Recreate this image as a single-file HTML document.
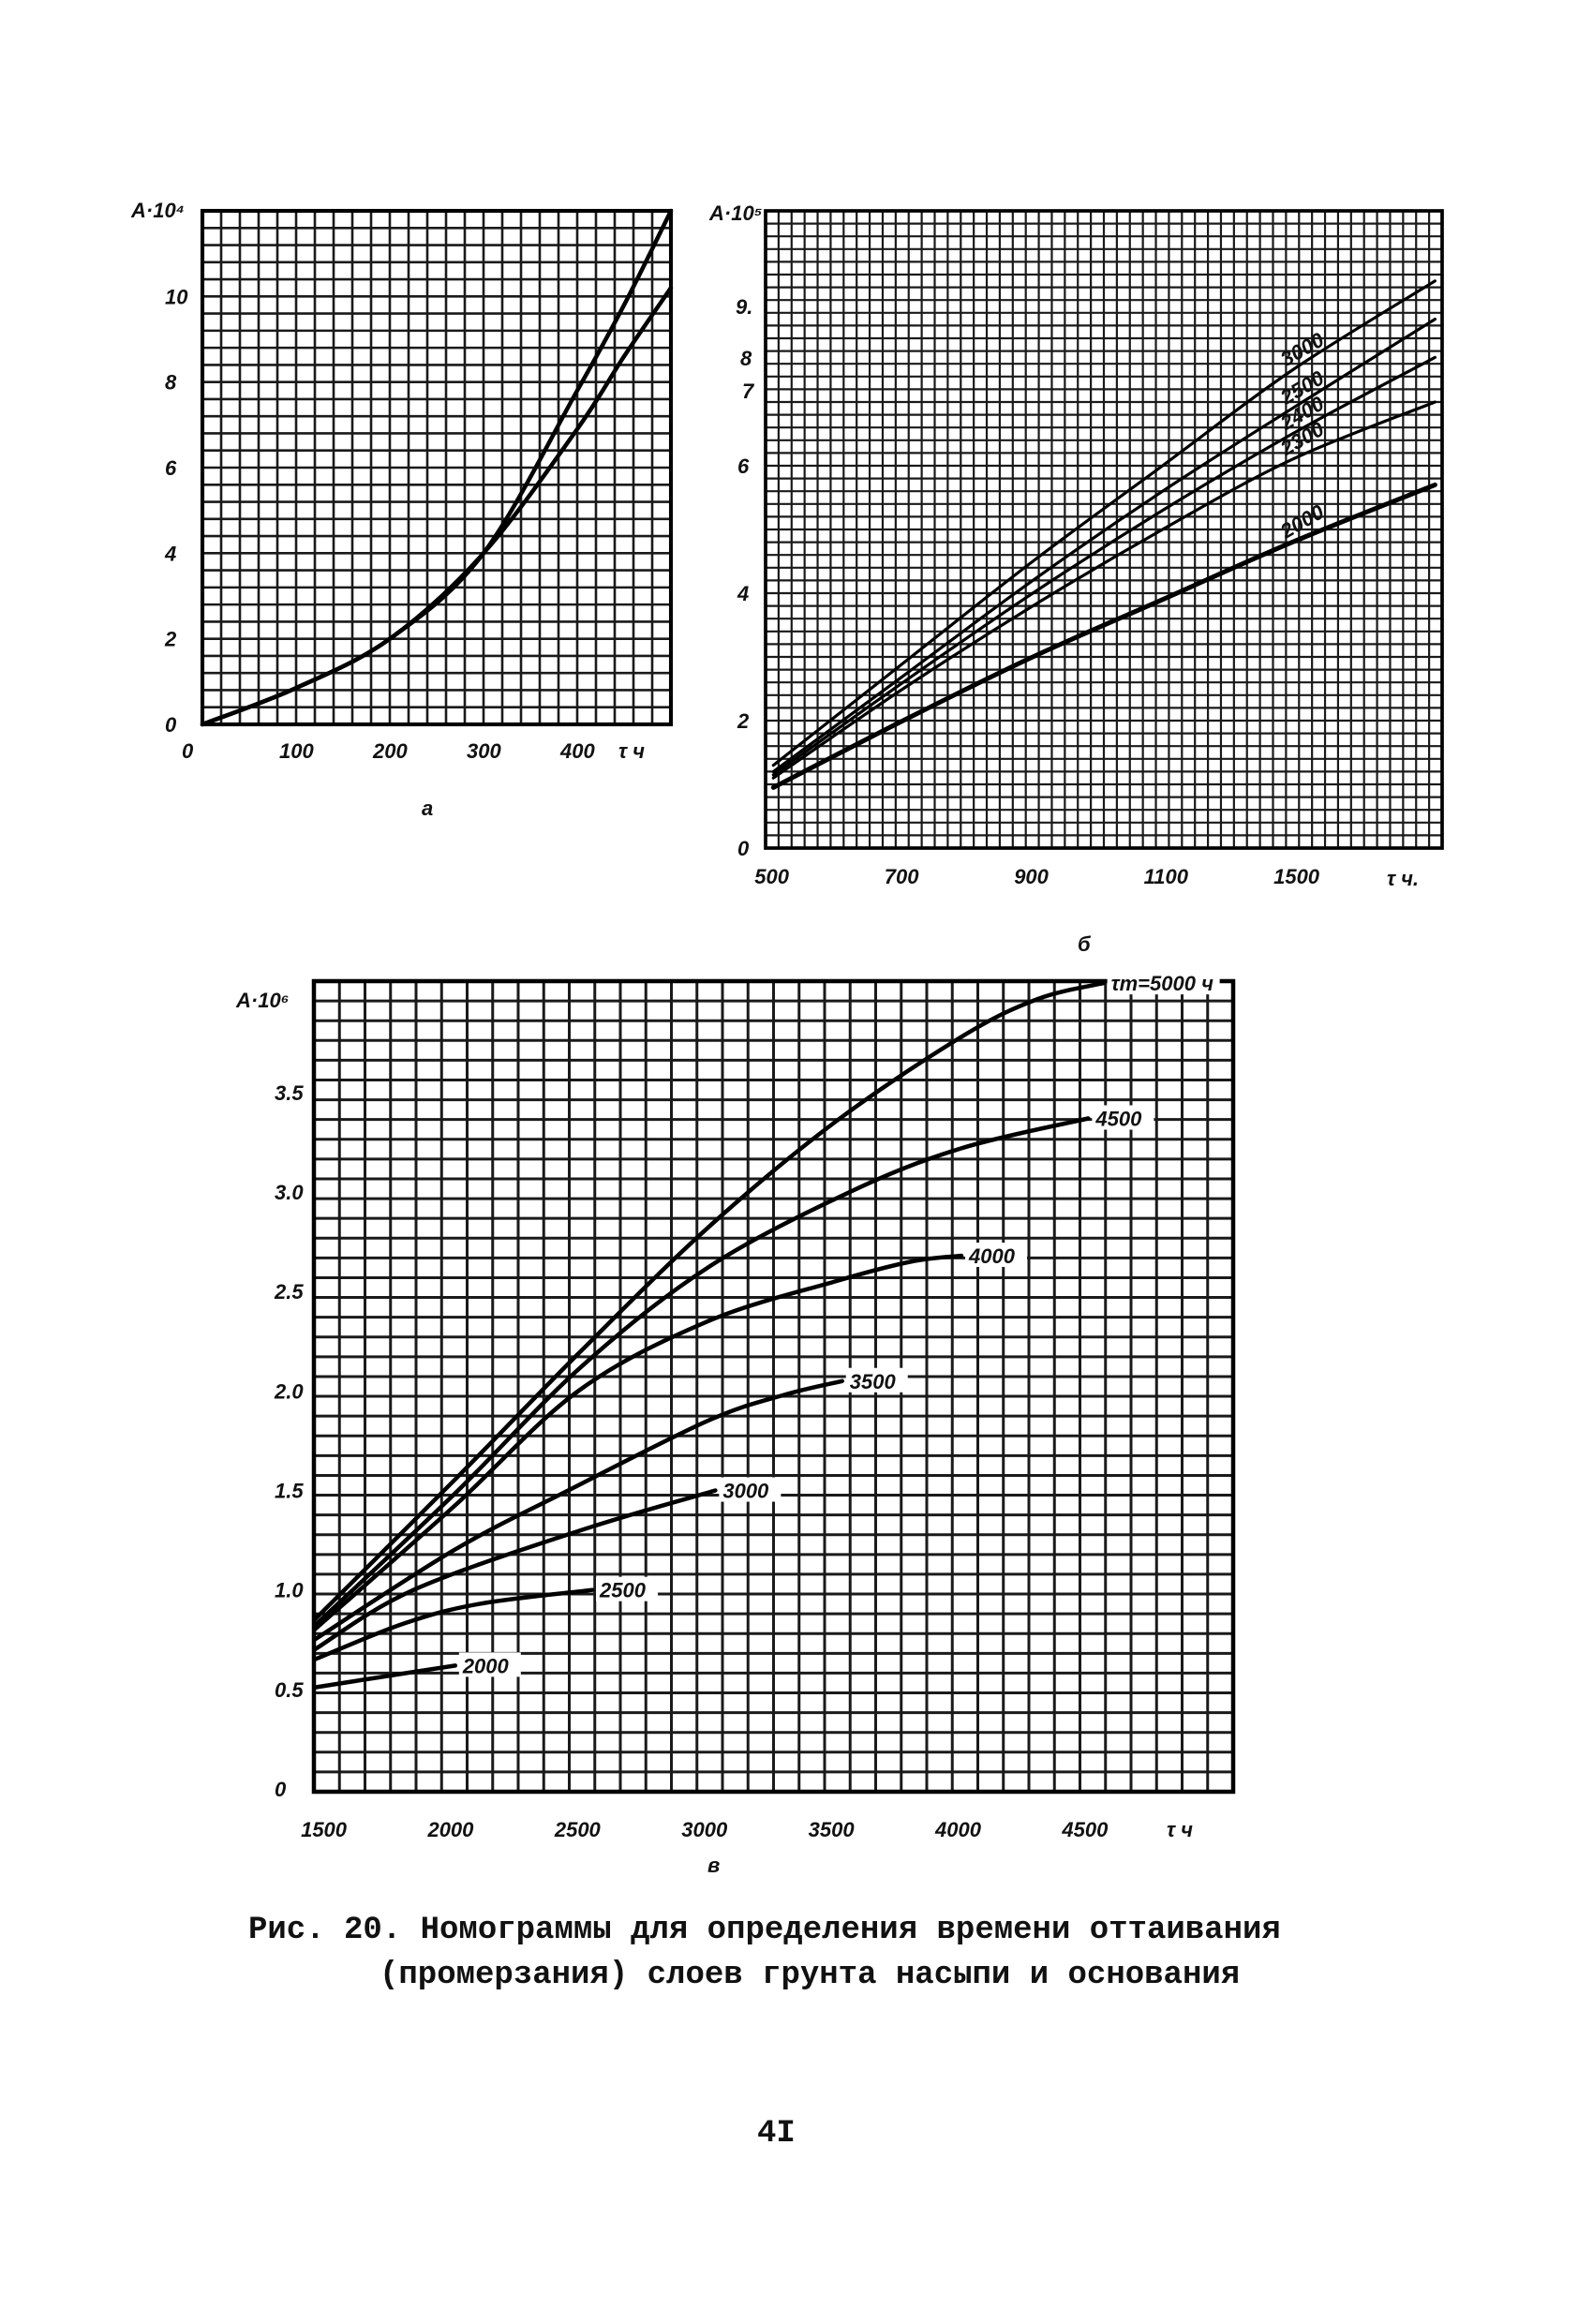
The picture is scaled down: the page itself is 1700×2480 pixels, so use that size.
<!DOCTYPE html>
<html><head><meta charset="utf-8">
<style>
html,body{margin:0;padding:0;background:#fff;}
svg{display:block;}
.tick{font-family:"Liberation Sans",sans-serif;font-style:italic;font-weight:bold;font-size:22px;fill:#111;}
.cap{font-family:"Liberation Mono","Noto Sans CJK SC",monospace;font-weight:bold;font-size:34px;fill:#111;}
</style></head>
<body>
<svg id="page" width="1700" height="2480" viewBox="0 0 1700 2480" xmlns="http://www.w3.org/2000/svg">
<g id="chartA"></g>
<g id="chartB"></g>
<g id="chartC"></g>
<text class="tick" x="450" y="870">а</text>
<text class="tick" x="1150" y="1015">б</text>
<text class="tick" x="755" y="1998">в</text>
<text class="cap" x="265" y="2068">Рис. 20. Номограммы для определения времени оттаивания</text>
<text class="cap" x="405" y="2116">(промерзания) слоев грунта насыпи и основания</text>
<text class="cap" x="808" y="2285">4I</text>
</svg>
<script>
// ---- Chart а data ----
const aXTicks = [0, 100, 200, 300, 400];
const aYTicks = [0, 2, 4, 6, 8, 10];
const aX = [0, 100, 200, 300, 400, 450, 500];
const aUpper = [0, 0.85, 2.0, 4.0, 7.8, 9.8, 12.0];
const aLower = [0, 0.85, 2.0, 4.0, 6.9, 8.6, 10.2];

// ---- Chart б data ----
const bXTicks = [500, 700, 900, 1100, 1300];
const bXTickLabels = ["500", "700", "900", "1100", "1500"];
const bYTicks = [0, 2, 4, 6];
const bX = [500, 700, 900, 1100, 1300, 1520];
const bS3000 = [1.3, 2.9, 4.5, 6.0, 7.5, 8.9];
const bS2500 = [1.2, 2.7, 4.2, 5.6, 6.9, 8.3];
const bS2400 = [1.15, 2.6, 4.0, 5.3, 6.5, 7.7];
const bS2300 = [1.1, 2.5, 3.8, 5.0, 6.1, 7.0];
const bS2000 = [0.95, 2.0, 3.0, 3.9, 4.8, 5.7];
const bLabels = ["3000", "2500", "2400", "2300", "2000"];

// ---- Chart в data ----
const cXTicks = [1500, 2000, 2500, 3000, 3500, 4000, 4500];
const cYTicks = [0, 0.5, 1.0, 1.5, 2.0, 2.5, 3.0, 3.5];
const cYTickLabels = ["0", "0.5", "1.0", "1.5", "2.0", "2.5", "3.0", "3.5"];
const c2000x = [1450, 1700, 2005];
const c2000y = [0.51, 0.56, 0.62];
const c2500x = [1450, 1800, 2100, 2545];
const c2500y = [0.65, 0.83, 0.93, 1.0];
const c3000x = [1450, 1840, 2500, 3030];
const c3000y = [0.7, 1.0, 1.3, 1.5];
const c3500x = [1450, 2000, 2450, 3000, 3300, 3530];
const c3500y = [0.75, 1.2, 1.5, 1.85, 1.98, 2.05];
const c4000x = [1450, 2000, 2490, 3000, 3500, 3800, 4000];
const c4000y = [0.8, 1.42, 2.0, 2.35, 2.55, 2.65, 2.68];
const c4500x = [1450, 2000, 2500, 3000, 3560, 4000, 4500];
const c4500y = [0.82, 1.48, 2.12, 2.62, 3.0, 3.22, 3.37];
const c5000x = [1450, 2000, 2500, 3000, 3500, 4000, 4300, 4560];
const c5000y = [0.85, 1.55, 2.2, 2.82, 3.35, 3.78, 3.97, 4.05];

const NS = "http://www.w3.org/2000/svg";
function mk(tag, attrs, parent) {
  const e = document.createElementNS(NS, tag);
  for (const k in attrs) e.setAttribute(k, attrs[k]);
  parent.appendChild(e);
  return e;
}
function scale(d0, d1, r0, r1) { return v => r0 + (v - d0) / (d1 - d0) * (r1 - r0); }
function smoothPath(xs, ys, sx, sy) {
  const p = xs.map((x, i) => [sx(x), sy(ys[i])]);
  let d = "M" + p[0][0] + "," + p[0][1];
  for (let i = 0; i < p.length - 1; i++) {
    const p0 = p[i - 1] || p[i], p1 = p[i], p2 = p[i + 1], p3 = p[i + 2] || p2;
    const c1x = p1[0] + (p2[0] - p0[0]) / 6, c1y = p1[1] + (p2[1] - p0[1]) / 6;
    const c2x = p2[0] - (p3[0] - p1[0]) / 6, c2y = p2[1] - (p3[1] - p1[1]) / 6;
    d += " C" + c1x + "," + c1y + " " + c2x + "," + c2y + " " + p2[0] + "," + p2[1];
  }
  return d;
}
function grid(g, L, R, T, B, cols, rows, sw) {
  for (let i = 0; i <= cols; i++) {
    const x = L + (R - L) * i / cols;
    const ln = mk("line", {x1: x, x2: x, y1: T, y2: B, stroke: "#1a1a1a", "stroke-width": sw}, g);
    
    
  }
  for (let j = 0; j <= rows; j++) {
    const y = T + (B - T) * j / rows;
    const ln = mk("line", {x1: L, x2: R, y1: y, y2: y, stroke: "#1a1a1a", "stroke-width": sw}, g);
    
    
  }
  const fr = mk("rect", {x: L, y: T, width: R - L, height: B - T, fill: "none", stroke: "#000", "stroke-width": sw + 1.5}, g);
  
  
}
function curve(g, xs, ys, sx, sy, w, name) {
  const p = mk("path", {d: smoothPath(xs, ys, sx, sy), fill: "none", stroke: "#000", "stroke-width": w, "stroke-linecap": "round"}, g);
  
  
}
function label(g, x, y, txt, name, size) {
  const t = mk("text", {x: x, y: y, class: "tick"}, g);
  if (size) t.setAttribute("font-size", size);
  t.textContent = txt;
  
  
  return t;
}

// ---- Chart а ----
(function () {
  const g = document.getElementById("chartA");
  const L = 216, R = 716, T = 225, B = 773;
  const sx = scale(0, 500, L, R), sy = scale(0, 12, B, T);
  grid(g, L, R, T, B, 25, 30, 2.6);
  aXTicks.forEach(v => label(g, sx(v) - (v ? 18 : 22), B + 36, String(v), "x-tick-label"));
  aYTicks.forEach(v => label(g, L - 40, sy(v) + 8, String(v), "y-tick-label"));
  label(g, 140, 232, "A·10⁴", "y-axis-title", 20);
  label(g, 660, 809, "τ ч", "x-axis-title");
  curve(g, aX, aUpper, sx, sy, 4.5, "curve-upper");
  curve(g, aX, aLower, sx, sy, 4.5, "curve-lower");
})();

// ---- Chart б ----
(function () {
  const g = document.getElementById("chartB");
  const L = 817, R = 1539, T = 225, B = 905;
  const sx = scale(488, 1531, L, R), sy = scale(0, 10, B, T);
  grid(g, L, R, T, B, 52, 50, 2.2);
  bXTicks.forEach((v, i) => label(g, sx(v) - 20, B + 38, bXTickLabels[i], "x-tick-label"));
  bYTicks.forEach(v => label(g, L - 30, sy(v) + 8, String(v), "y-tick-label"));
  label(g, 785, 335, "9.", "y-tick-label");
  label(g, 790, 390, "8", "y-tick-label");
  label(g, 792, 425, "7", "y-tick-label");
  label(g, 757, 235, "A·10⁵", "y-axis-title", 20);
  label(g, 1480, 945, "τ ч.", "x-axis-title");
  const series = [bS3000, bS2500, bS2400, bS2300, bS2000];
  series.forEach((s, i) => curve(g, bX, s, sx, sy, i === 4 ? 5 : 3.2, "curve-" + bLabels[i]));
  bLabels.forEach((t, i) => {
    const px = sx(1290), py = sy(series[i][4] + 0.05);
    const tx = label(g, px, py, t, "curve-label", 15);
    tx.setAttribute("transform", "rotate(-30 " + px + " " + py + ")");
  });
})();

// ---- Chart в ----
(function () {
  const g = document.getElementById("chartC");
  const L = 335, R = 1316, T = 1047, B = 1912;
  const sx = scale(1448, 5071, L, R), sy = scale(0, 4.06, 1909, T);
  grid(g, L, R, T, B, 36, 41, 3);
  cXTicks.forEach(v => label(g, sx(v) - 28, B + 48, String(v), "x-tick-label", 24));
  cYTicks.forEach((v, i) => label(g, L - 42, sy(v) + 8, cYTickLabels[i], "y-tick-label"));
  label(g, 252, 1075, "A·10⁶", "y-axis-title", 24);
  label(g, 1245, 1960, "τ ч", "x-axis-title", 24);
  const xs = [c2000x, c2500x, c3000x, c3500x, c4000x, c4500x, c5000x];
  const ys = [c2000y, c2500y, c3000y, c3500y, c4000y, c4500y, c5000y];
  const names = ["2000", "2500", "3000", "3500", "4000", "4500", "τm=5000 ч"];
  xs.forEach((x, i) => {
    curve(g, x, ys[i], sx, sy, 4.5, "curve-" + (i === 6 ? "5000" : names[i]));
    const ex = sx(x[x.length - 1]), ey = sy(ys[i][ys[i].length - 1]);
    const w = i === 6 ? 120 : 66;
    const bx = mk("rect", {x: ex + 4, y: ey - 14, width: w, height: 26, fill: "#fff"}, g);
    
    
    label(g, ex + 8, ey + 8, names[i], "curve-label", i === 6 ? 18 : 22);
  });
})();
</script>
</body></html>
